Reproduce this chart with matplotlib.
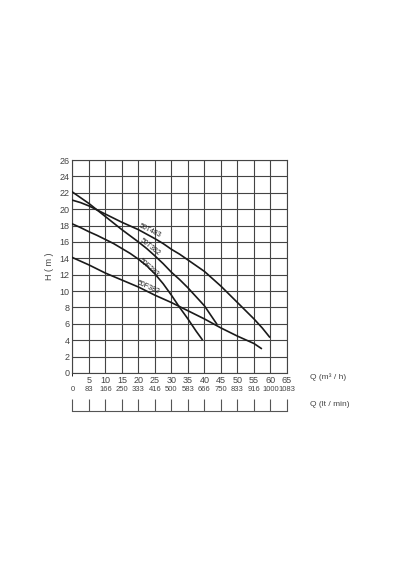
import matplotlib
matplotlib.use('Agg')
import matplotlib.pyplot as plt

plt.rcParams['font.family'] = ['Liberation Sans', 'DejaVu Sans']

# curvas H x Q
q_t483 = [0, 2.5, 5, 7.5, 10, 12.5, 15, 17.5, 20, 22.5, 25, 27.5, 30, 32.5, 35,
          37.5, 40, 42.5, 45, 47.5, 50, 52.5, 55, 57.5, 59.7]
h_t483 = [21.1, 20.8, 20.4, 19.9, 19.4, 18.9, 18.4, 17.95, 17.5, 16.95, 16.4, 15.8,
          15.1, 14.5, 13.8, 13.1, 12.4, 11.5, 10.6, 9.6, 8.6, 7.6, 6.6, 5.5, 4.4]

q_t382 = [0, 2.5, 5, 7.5, 10, 12.5, 15, 17.5, 20, 22.5, 25, 27.5, 30, 32.5, 35,
          37.5, 40, 43.7]
h_t382 = [22.1, 21.4, 20.7, 19.9, 19.1, 18.3, 17.5, 16.75, 16.0, 15.2, 14.3, 13.35,
          12.3, 11.4, 10.4, 9.3, 8.2, 6.0]

q_f283 = [0, 2.5, 5, 7.5, 10, 12.5, 15, 17.5, 20, 22.5, 25, 27.5, 30, 32.5, 35,
          37.5, 39.3]
h_f283 = [18.2, 17.75, 17.25, 16.8, 16.3, 15.8, 15.2, 14.6, 13.9, 13.1, 12.1, 10.9,
          9.5, 8.0, 6.6, 5.1, 4.1]

q_f382 = [0, 5, 10, 15, 20, 25, 30, 35, 40, 45, 50, 55, 57.2]
h_f382 = [14.1, 13.2, 12.2, 11.35, 10.5, 9.5, 8.6, 7.6, 6.6, 5.5, 4.5, 3.6, 3.0]

nomes = ['50T483', '50T382', '50F283', '50F382']
pos_nomes = [(23.5, 17.3), (23.6, 15.3), (23.2, 12.9), (23.0, 10.4)]
rot_nomes = [-26, -38, -41, -24]

q_ticks = [5, 10, 15, 20, 25, 30, 35, 40, 45, 50, 55, 60, 65]
lt_min = ['0', '83', '166', '250', '333', '416', '500', '583', '666', '750',
          '833', '916', '1000', '1083']
h_ticks = list(range(0, 27, 2))

fig = plt.figure(figsize=(4.0, 5.7), dpi=100)
ax = fig.add_axes([0.1808, 1 - 373 / 570, 0.5367, 213 / 570])

cor = '#1a1a1a'
for q, h in [(q_t483, h_t483), (q_t382, h_t382), (q_f283, h_f283), (q_f382, h_f382)]:
    ax.plot(q, h, color=cor, lw=1.2, zorder=3, solid_joinstyle='round')

for nome, (x, y), r in zip(nomes, pos_nomes, rot_nomes):
    ax.text(x, y, nome, fontsize=5, rotation=r, ha='center', va='center',
            color=cor, rotation_mode='anchor', zorder=4)

ax.set_xlim(0, 65)
ax.set_ylim(0, 26)
ax.set_xticks(q_ticks)
ax.set_yticks(h_ticks)
ax.set_xticklabels([str(v) for v in q_ticks], fontsize=6.5, color='#444')
ax.set_yticklabels([str(v) for v in h_ticks], fontsize=6.5, color='#444')
ax.tick_params(length=0, pad=2)
ax.set_xticks(range(0, 66, 5), minor=True)
ax.grid(True, which='both', color='#444', lw=0.8)
for s in ax.spines.values():
    s.set_color('#444')
    s.set_linewidth(0.8)
ax.set_ylabel('H ( m )', fontsize=6.5, color='#444', labelpad=4)

fig.text(309.5 / 400, 1 - 377 / 570, 'Q (m³ / h)', fontsize=6, color='#444',
         ha='left', va='center')
fig.text(309.5 / 400, 1 - 404 / 570, 'Q (lt / min)', fontsize=6, color='#444',
         ha='left', va='center')

# segundo eixo (lt/min)
ax2 = fig.add_axes([0.1808, 1 - 410.7 / 570, 0.5367, 11.7 / 570])
ax2.set_xlim(0, 65)
ax2.set_ylim(0, 1)
ax2.set_yticks([])
ax2.set_xticks(range(0, 66, 5))
ax2.set_xticklabels(lt_min, fontsize=5.5, color='#444')
ax2.tick_params(axis='x', direction='in', length=8.4, width=0.8, color='#555',
                bottom=True, top=False, labelbottom=False, labeltop=True, pad=4)
for k in ['top', 'left', 'right']:
    ax2.spines[k].set_visible(False)
ax2.spines['bottom'].set_color('#555')
ax2.spines['bottom'].set_linewidth(0.8)
ax2.patch.set_alpha(0)

fig.savefig('out.png', dpi=100)
